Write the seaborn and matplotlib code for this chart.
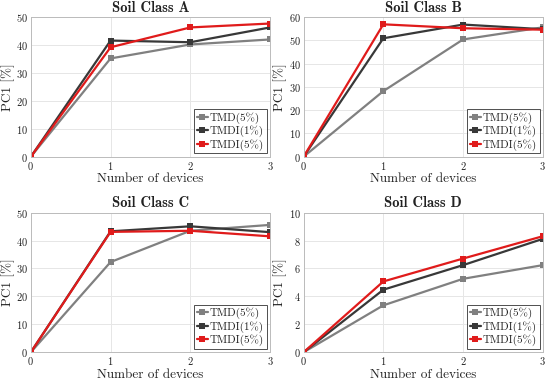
import pandas as pd
import matplotlib.pyplot as plt
import seaborn as sns

# PC1 [%] vs number of devices, four soil classes
devices = [0, 1, 2, 3]
series = ['TMD(5%)', 'TMDI(1%)', 'TMDI(5%)']

soil_a = {'TMD(5%)': [0, 35.2, 40.2, 42.0],
          'TMDI(1%)': [0, 41.6, 41.0, 46.3],
          'TMDI(5%)': [0, 39.2, 46.3, 47.7]}
soil_b = {'TMD(5%)': [0, 28.2, 50.4, 55.6],
          'TMDI(1%)': [0, 50.9, 56.8, 54.8],
          'TMDI(5%)': [0, 56.9, 55.2, 54.6]}
soil_c = {'TMD(5%)': [0, 32.3, 43.5, 45.6],
          'TMDI(1%)': [0, 43.3, 45.1, 43.0],
          'TMDI(5%)': [0, 43.1, 43.5, 41.5]}
soil_d = {'TMD(5%)': [0, 3.36, 5.26, 6.24],
          'TMDI(1%)': [0, 4.48, 6.24, 8.12],
          'TMDI(5%)': [0, 5.07, 6.71, 8.31]}

panels = [('Soil Class A', soil_a, 50, 10),
          ('Soil Class B', soil_b, 60, 10),
          ('Soil Class C', soil_c, 50, 10),
          ('Soil Class D', soil_d, 10, 2)]

colors = {'TMD(5%)': '#808080', 'TMDI(1%)': '#383838', 'TMDI(5%)': '#e01b1b'}

sns.set_style('whitegrid')
plt.rcParams['font.family'] = ['cmr10', 'DejaVu Serif']
plt.rcParams['axes.formatter.use_mathtext'] = True
plt.rcParams['mathtext.fontset'] = 'cm'
plt.rcParams['text.color'] = '#222222'
plt.rcParams['axes.labelcolor'] = '#222222'

fig, axes = plt.subplots(2, 2, figsize=(5.5, 3.8), dpi=100)
for ax, (title, data, ymax, ystep) in zip(axes.flat, panels):
    rows = []
    for s in series:
        for d, v in zip(devices, data[s]):
            rows.append({'devices': d, 'PC1': v, 'series': s})
    df = pd.DataFrame(rows)
    sns.lineplot(data=df, x='devices', y='PC1', hue='series', palette=colors,
                 marker='s', markersize=5, markeredgewidth=0, linewidth=1.6,
                 ax=ax)
    ax.set_xlim(0, 3)
    ax.set_ylim(0, ymax)
    ax.set_xticks(devices)
    ax.set_yticks(range(0, ymax + 1, ystep))
    ax.set_title(title, fontsize=10.5, family=['cmb10', 'DejaVu Serif'], pad=4)
    ax.set_xlabel('Number of devices', fontsize=9.5, labelpad=1)
    ax.set_ylabel('PC1 [%]', fontsize=9.5, labelpad=1)
    ax.tick_params(labelsize=7.5, pad=2, length=0, labelcolor='#222222')
    ax.grid(True, color='#e6e6e6', linewidth=0.7)
    for sp in ax.spines.values():
        sp.set_color('#bbbbbb')
        sp.set_linewidth(0.7)
    leg = ax.legend(loc='lower right', fontsize=8, frameon=True, fancybox=False,
                    borderpad=0.25, labelspacing=0.15, handlelength=1.0,
                    handletextpad=0.15, borderaxespad=0.3)
    leg.get_frame().set_edgecolor('#222222')
    leg.get_frame().set_linewidth(0.7)

fig.subplots_adjust(left=0.056, right=0.987, top=0.955, bottom=0.073,
                    wspace=0.14, hspace=0.4)
fig.savefig('out.png', dpi=100)
